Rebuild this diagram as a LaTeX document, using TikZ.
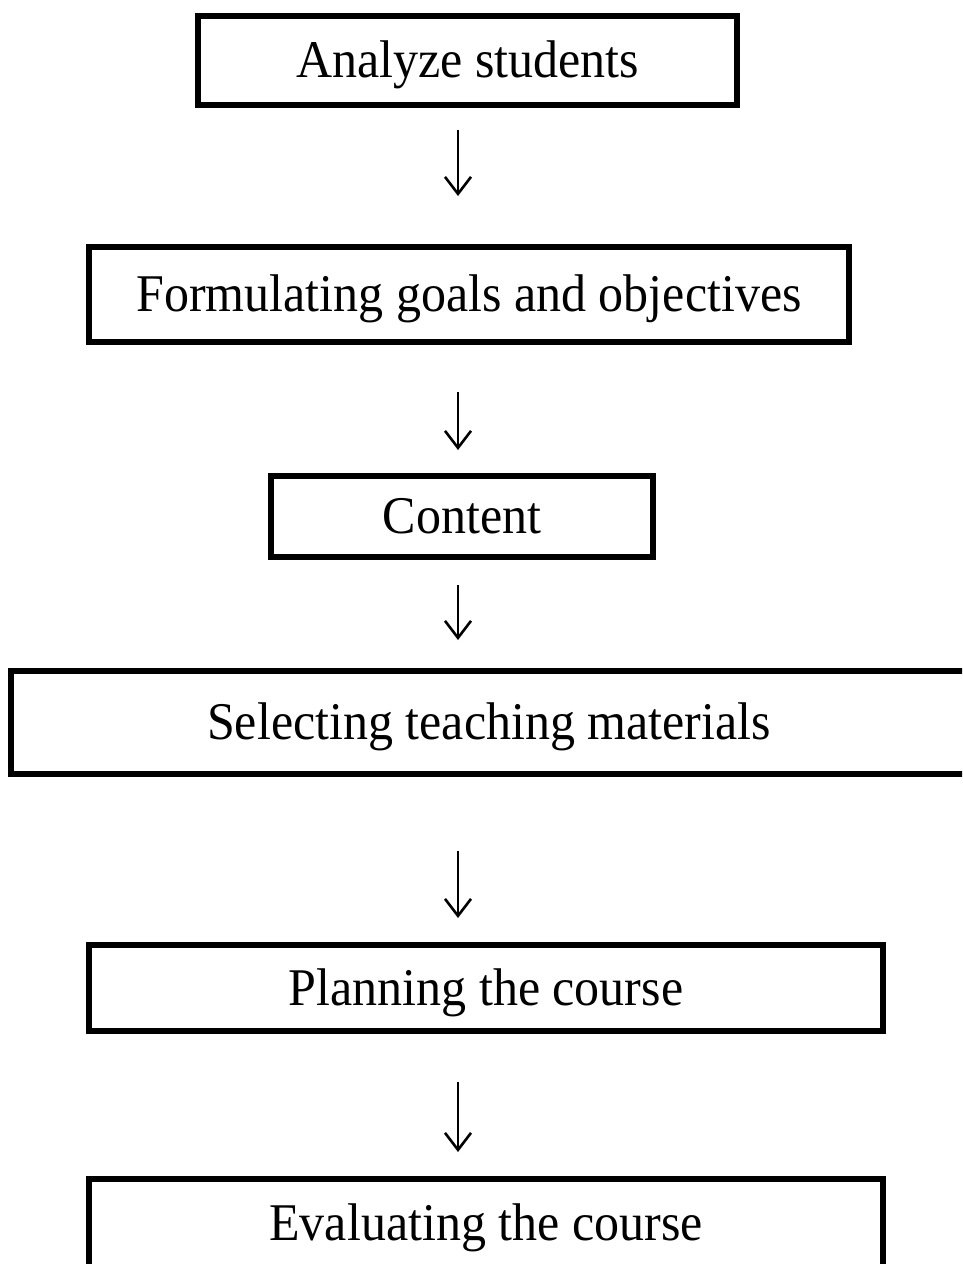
\documentclass[tikz,border=0pt]{standalone}
\usepackage{fontspec}
\usepackage{graphicx}
\setmainfont{Liberation Serif}
\usetikzlibrary{arrows.meta}
% stage labels are set slightly taller than wide
\newcommand{\tallword}[1]{\scalebox{1}[1.06]{#1}}
\begin{document}
\begin{tikzpicture}[x=1pt,y=-1pt,
  stagebox/.style={draw=black, line width=6pt, rectangle, inner sep=0pt,
    text height=42pt, text depth=8pt,
    font=\fontsize{50}{60}\selectfont},
  flow/.style={line width=2.6pt, -{Straight Barb[length=17pt,width=26pt,line width=2.6pt]}}]
  \clip (0,0) rectangle (962,1264);
  \fill[white] (0,0) rectangle (962,1264);
  % vertical axis of the arrows
  \coordinate (axis) at (458,0);
  % process stages (outer bounds minus half the border)
  \node[stagebox, minimum width=539pt, minimum height=89pt] (analyze) at (467.5,60.5) {\tallword{Analyze students}};
  \node[stagebox, minimum width=760pt, minimum height=95pt] (goals) at (469,294.5) {\tallword{Formulating goals and objectives}};
  \node[stagebox, minimum width=382pt, minimum height=81pt] (content) at (462,516.5) {\tallword{Content}};
  \node[stagebox, minimum width=956pt, minimum height=103pt] (materials) at (489,722.5) {\tallword{Selecting teaching materials}};
  \node[stagebox, minimum width=794pt, minimum height=86pt] (planning) at (486,988) {\tallword{Planning the course}};
  \node[stagebox, minimum width=794pt, minimum height=88pt] (evaluating) at (486,1223) {\tallword{Evaluating the course}};
  % arrows between stages
  \draw[flow, shorten <=22pt, shorten >=48pt] (analyze.south -| axis) -- (goals.north -| axis);
  \draw[flow, shorten <=47pt, shorten >=23pt] (goals.south -| axis) -- (content.north -| axis);
  \draw[flow, shorten <=25pt, shorten >=28pt] (content.south -| axis) -- (materials.north -| axis);
  \draw[flow, shorten <=74pt, shorten >=24pt] (materials.south -| axis) -- (planning.north -| axis);
  \draw[flow, shorten <=48pt, shorten >=24pt] (planning.south -| axis) -- (evaluating.north -| axis);
\end{tikzpicture}
\end{document}
